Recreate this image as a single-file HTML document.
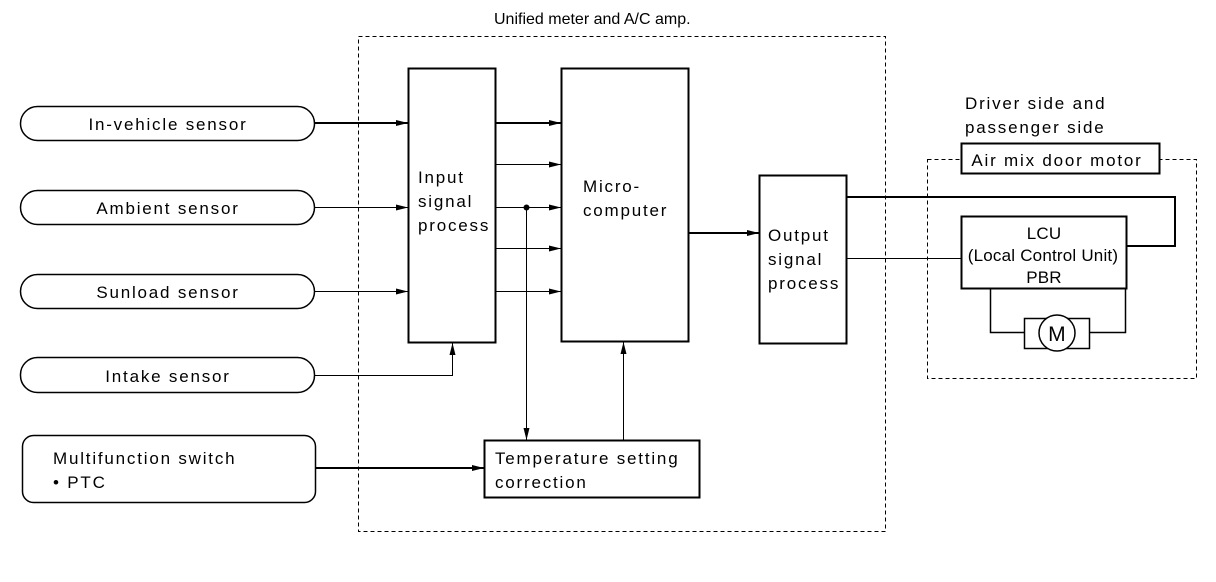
<!DOCTYPE html>
<html><head><meta charset="utf-8"><style>
html,body{margin:0;padding:0;background:#fff;}
svg{display:block;}
text{font-family:"Liberation Sans",sans-serif;font-size:17px;letter-spacing:1.8px;fill:#000;}
text.t{font-size:16px;letter-spacing:0;}
text.l{letter-spacing:0.2px;}
</style></head><body>
<svg width="1216" height="582" viewBox="0 0 1216 582" xmlns="http://www.w3.org/2000/svg">
<defs>
<marker id="a" markerWidth="12" markerHeight="8" refX="12" refY="4" orient="auto" markerUnits="userSpaceOnUse">
<path d="M0,1 L12,4 L0,7 z" fill="#000"/></marker>
</defs>
<g fill="none" stroke="#000">
<rect x="358.5" y="36.5" width="527" height="495" stroke-dasharray="4,3" stroke-width="1"/>
<rect x="927.5" y="159.5" width="269" height="219" stroke-dasharray="4,3" stroke-width="1"/>
<rect x="20.5" y="106.5" width="294" height="34" rx="17" stroke-width="1.5"/>
<rect x="20.5" y="190.5" width="294" height="34" rx="17" stroke-width="1.5"/>
<rect x="20.5" y="274.5" width="294" height="34" rx="17" stroke-width="1.5"/>
<rect x="20.5" y="357.5" width="294" height="35" rx="17" stroke-width="1.5"/>
<rect x="22.5" y="435.5" width="293" height="67" rx="11" stroke-width="1.5"/>
<rect x="408.5" y="68.5" width="87" height="274" stroke-width="2"/>
<rect x="561.5" y="68.5" width="127" height="273" stroke-width="2"/>
<rect x="759.5" y="175.5" width="87" height="168" stroke-width="2"/>
<rect x="484.5" y="440.5" width="215" height="57" stroke-width="2"/>
<rect x="961.5" y="143.5" width="198" height="30" fill="#fff" stroke-width="2"/>
<rect x="961.5" y="216.5" width="165" height="72" stroke-width="2"/>
<line x1="315" y1="123" x2="408" y2="123" stroke-width="2" marker-end="url(#a)"/>
<line x1="315" y1="207.5" x2="408" y2="207.5" marker-end="url(#a)"/>
<line x1="315" y1="291.5" x2="408" y2="291.5" marker-end="url(#a)"/>
<polyline points="315,375.5 452.5,375.5 452.5,343" marker-end="url(#a)"/>
<line x1="316" y1="468" x2="484" y2="468" stroke-width="2" marker-end="url(#a)"/>
<line x1="496" y1="123" x2="561" y2="123" stroke-width="2" marker-end="url(#a)"/>
<line x1="496" y1="164.5" x2="561" y2="164.5" marker-end="url(#a)"/>
<line x1="496" y1="207.5" x2="561" y2="207.5" marker-end="url(#a)"/>
<line x1="496" y1="248.5" x2="561" y2="248.5" marker-end="url(#a)"/>
<line x1="496" y1="291.5" x2="561" y2="291.5" marker-end="url(#a)"/>
<line x1="526.5" y1="207" x2="526.5" y2="440" marker-end="url(#a)"/>
<line x1="623.5" y1="440" x2="623.5" y2="342" marker-end="url(#a)"/>
<line x1="689" y1="233" x2="759" y2="233" stroke-width="2" marker-end="url(#a)"/>
<polyline points="847,197 1175,197 1175,246 1127,246" stroke-width="2"/>
<line x1="847" y1="258.5" x2="961" y2="258.5"/>
<polyline points="990.5,289 990.5,332.5 1024,332.5" stroke-width="1.5"/>
<polyline points="1089,332.5 1125.5,332.5 1125.5,289" stroke-width="1.5"/>
<rect x="1024.5" y="318.5" width="65" height="30" stroke-width="1.5"/>
<circle cx="1057" cy="333" r="18" fill="#fff" stroke-width="1.5"/>
</g>
<circle cx="526.5" cy="207.5" r="3" fill="#000"/>
<text class="t" x="494" y="24">Unified meter and A/C amp.</text>
<text x="168" y="130" text-anchor="middle">In-vehicle sensor</text>
<text x="168" y="214" text-anchor="middle">Ambient sensor</text>
<text x="168" y="298" text-anchor="middle">Sunload sensor</text>
<text x="168" y="382" text-anchor="middle">Intake sensor</text>
<text x="53" y="464">Multifunction switch</text>
<text x="53" y="488">• PTC</text>
<text x="418" y="183">Input</text>
<text x="418" y="207">signal</text>
<text x="418" y="231">process</text>
<text x="583" y="192">Micro-</text>
<text x="583" y="216">computer</text>
<text x="768" y="241">Output</text>
<text x="768" y="265">signal</text>
<text x="768" y="289">process</text>
<text x="495" y="464">Temperature setting</text>
<text x="495" y="488">correction</text>
<text x="965" y="109">Driver side and</text>
<text x="965" y="133">passenger side</text>
<text x="1057" y="166" text-anchor="middle">Air mix door motor</text>
<text class="l" x="1044" y="239" text-anchor="middle">LCU</text>
<text class="l" x="1043" y="261" text-anchor="middle">(Local Control Unit)</text>
<text class="l" x="1044" y="283" text-anchor="middle">PBR</text>
<text class="l" x="1057" y="341" text-anchor="middle" style="font-size:21px">M</text>
</svg>
</body></html>
